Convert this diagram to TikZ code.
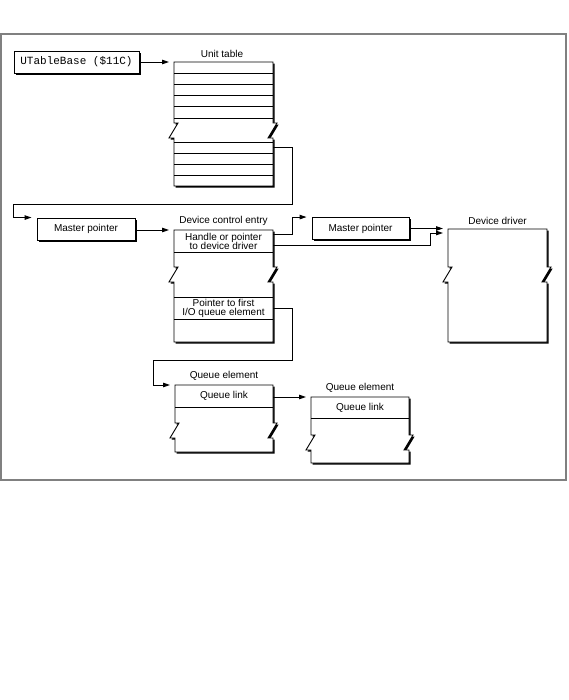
\documentclass[tikz,border=0pt]{standalone}
\usepackage{fontspec}
\setmainfont{Liberation Sans}
\setmonofont{Liberation Mono}
\usetikzlibrary{arrows.meta,shadows}

% block with a break: left, right, top, start of break, bottom
\newcommand{\brokenblock}[5]{%
  \filldraw[block] (#1,#3) -- (#2,#3) -- (#2,#4) -- ++(4,0) -- ++(-9,15) -- ++(5,0)
    -- (#2,#5) -- (#1,#5) -- (#1,#4+15) -- ++(-5,0) -- ++(9,-15) -- (#1,#4) -- cycle;}

\begin{document}
\begin{tikzpicture}[x=1pt,y=-1pt,line width=0.9pt,
    block/.style={fill=white,draw=black,
      drop shadow={shadow xshift=1.6pt,shadow yshift=-1.6pt,opacity=1,fill=black}},
    ptrbox/.style={block,rectangle,inner sep=0pt,minimum height=22pt},
    caption/.style={font=\fontsize{10}{9.5}\selectfont},
    rowtext/.style={font=\fontsize{10}{9.5}\selectfont,align=center,inner sep=0pt},
    link/.style={-{Triangle[length=7pt,width=4.5pt]},shorten >=5pt}]
  \useasboundingbox (0,0) rectangle (568,700);
  \draw[white!50!black,line width=1.6pt] (1,34) rectangle (566,480);

  % unit table
  \node[ptrbox,minimum width=125pt] (utb) at (76.5,62) {\fontsize{11}{11}\ttfamily UTableBase (\$11C)};
  \node[caption] (ut-cap) at (222,54) {Unit table};
  \brokenblock{174}{273}{62}{123}{186}
  \foreach \y in {73.2,84.4,95.6,106.8,118,142,153,164,175}
    \draw (174,\y) -- (273,\y);
  \coordinate (ut) at (174,62);
  \coordinate (ut-out) at (273,147);

  % master pointer to the device control entry
  \node[ptrbox,minimum width=98pt] (mp1) at (86,229) {\fontsize{10}{9.5}\selectfont Master pointer};

  % device control entry
  \node[caption] (dce-cap) at (223.5,221) {Device control entry};
  \brokenblock{174}{273}{230}{267}{342}
  \foreach \y in {252,297,319}
    \draw (174,\y) -- (273,\y);
  \node[rowtext] (dce-drv) at (223.5,241.5) {Handle or pointer\\to device driver};
  \node[rowtext] (dce-q) at (223.5,308.5) {Pointer to first\\I/O queue element};
  \coordinate (dce) at (174,230);
  \coordinate (dce-out1) at (273,234);
  \coordinate (dce-out2) at (273,245);
  \coordinate (dce-out3) at (273,308);

  % master pointer to the driver
  \node[ptrbox,minimum width=97pt] (mp2) at (360.5,228.5) {\fontsize{10}{9.5}\selectfont Master pointer};

  % device driver
  \node[caption] (dd-cap) at (497.5,221) {Device driver};
  \brokenblock{448}{547}{229}{267}{342}
  \coordinate (dd) at (448,229);

  % queue elements
  \node[caption] (qe1-cap) at (224,376) {Queue element};
  \brokenblock{175}{273}{385}{423}{452}
  \draw (175,407) -- (273,407);
  \node[rowtext] (qe1-link) at (224,396) {Queue link};
  \coordinate (qe1) at (175,385);

  \node[caption] (qe2-cap) at (360,388) {Queue element};
  \brokenblock{311}{409}{397}{435}{463}
  \draw (311,418) -- (409,418);
  \node[rowtext] (qe2-link) at (360,407.5) {Queue link};
  \coordinate (qe2) at (311,397);

  % connectors
  \draw[link] (utb.east |- ut) -- (ut);
  \draw[link] (ut-out) -- ++(19,0) -- ++(0,57) -| ([xshift=-23pt]mp1.north west) -- (mp1.north west);
  \draw[link] (mp1.east |- dce) -- (dce);
  \draw[link] (dce-out1) -- ++(19,0) |- (mp2.north west);
  \draw[link] (mp2.east) -- (mp2.east -| dd);
  \draw[link] (dce-out2) -- ++(157,0) |- ([yshift=-4pt]dd);
  \draw[link] (dce-out3) -- ++(19,0) -- ++(0,52) -| ([xshift=-22pt]qe1) -- (qe1);
  \draw[link] (qe1.east |- qe2) ++(98,0) -- (qe2);
\end{tikzpicture}
\end{document}
